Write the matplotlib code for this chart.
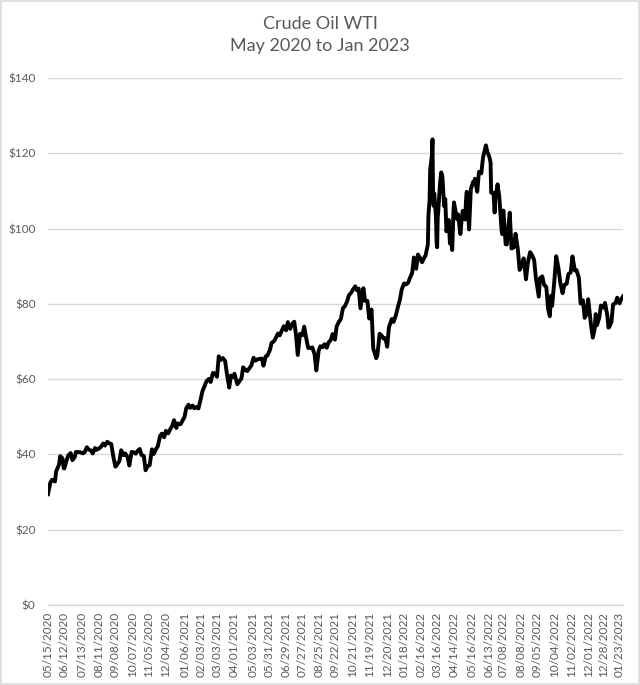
import matplotlib
matplotlib.use("Agg")
import matplotlib.pyplot as plt
import matplotlib.dates as mdates
from matplotlib.patches import Rectangle
import pandas as pd

dates = [
 "2020-05-15","2020-05-19","2020-05-22","2020-05-27","2020-05-29","2020-06-03","2020-06-05","2020-06-09","2020-06-11","2020-06-12",
 "2020-06-16","2020-06-19","2020-06-23","2020-06-26","2020-06-30","2020-07-02","2020-07-07","2020-07-10","2020-07-14","2020-07-17",
 "2020-07-21","2020-07-24","2020-07-28","2020-07-31","2020-08-04","2020-08-07","2020-08-11","2020-08-14","2020-08-18","2020-08-21",
 "2020-08-25","2020-08-28","2020-09-01","2020-09-04","2020-09-08","2020-09-11","2020-09-15","2020-09-18","2020-09-22","2020-09-25",
 "2020-09-29","2020-10-02","2020-10-06","2020-10-09","2020-10-13","2020-10-16","2020-10-20","2020-10-23","2020-10-27","2020-10-30",
 "2020-11-02","2020-11-06","2020-11-10","2020-11-13","2020-11-17","2020-11-20","2020-11-24","2020-11-27","2020-12-01","2020-12-04",
 "2020-12-08","2020-12-11","2020-12-15","2020-12-18","2020-12-22","2020-12-24","2020-12-29","2020-12-31",
 "2021-01-05","2021-01-08","2021-01-12","2021-01-15","2021-01-19","2021-01-22","2021-01-26","2021-01-29","2021-02-02","2021-02-05",
 "2021-02-09","2021-02-12","2021-02-16","2021-02-19","2021-02-23","2021-02-26","2021-03-02","2021-03-05","2021-03-08","2021-03-12",
 "2021-03-16","2021-03-19","2021-03-23","2021-03-26","2021-03-30","2021-04-01","2021-04-06","2021-04-09","2021-04-13","2021-04-16",
 "2021-04-20","2021-04-23","2021-04-27","2021-04-30","2021-05-04","2021-05-07","2021-05-11","2021-05-14","2021-05-18","2021-05-21",
 "2021-05-25","2021-05-28","2021-06-01","2021-06-04","2021-06-08","2021-06-11","2021-06-15","2021-06-18","2021-06-22","2021-06-25",
 "2021-06-29","2021-07-02","2021-07-06","2021-07-09","2021-07-13","2021-07-16","2021-07-19","2021-07-23","2021-07-27","2021-07-30",
 "2021-08-03","2021-08-06","2021-08-10","2021-08-13","2021-08-17","2021-08-20","2021-08-24","2021-08-27","2021-08-31","2021-09-03",
 "2021-09-07","2021-09-10","2021-09-14","2021-09-17","2021-09-21","2021-09-24","2021-09-28","2021-10-01","2021-10-05","2021-10-08",
 "2021-10-12","2021-10-15","2021-10-19","2021-10-22","2021-10-26","2021-10-29","2021-11-01","2021-11-04","2021-11-09","2021-11-12",
 "2021-11-16","2021-11-19","2021-11-23","2021-11-26","2021-11-30","2021-12-01","2021-12-03","2021-12-07","2021-12-10","2021-12-14",
 "2021-12-17","2021-12-20","2021-12-23","2021-12-28","2021-12-31",
 "2022-01-04","2022-01-07","2022-01-11","2022-01-14","2022-01-18","2022-01-21","2022-01-25","2022-01-28","2022-02-01","2022-02-04",
 "2022-02-08","2022-02-11","2022-02-15","2022-02-18","2022-02-22","2022-02-24","2022-02-28","2022-03-01","2022-03-03","2022-03-04",
 "2022-03-07","2022-03-08","2022-03-09","2022-03-10","2022-03-11","2022-03-14","2022-03-15","2022-03-16","2022-03-17","2022-03-18",
 "2022-03-21","2022-03-23","2022-03-25","2022-03-28","2022-03-30","2022-04-01","2022-04-05","2022-04-07","2022-04-08","2022-04-11",
 "2022-04-13","2022-04-14","2022-04-19","2022-04-21","2022-04-25","2022-04-27","2022-04-29","2022-05-03","2022-05-05","2022-05-06",
 "2022-05-10","2022-05-13","2022-05-17","2022-05-19","2022-05-20","2022-05-24","2022-05-27","2022-05-31","2022-06-03","2022-06-08",
 "2022-06-10","2022-06-14","2022-06-16","2022-06-17","2022-06-21","2022-06-23","2022-06-24","2022-06-28","2022-07-01","2022-07-05",
 "2022-07-06","2022-07-08","2022-07-12","2022-07-14","2022-07-15","2022-07-19","2022-07-22","2022-07-26","2022-07-29","2022-08-02",
 "2022-08-05","2022-08-09","2022-08-12","2022-08-16","2022-08-19","2022-08-23","2022-08-26","2022-08-30","2022-09-02","2022-09-07",
 "2022-09-09","2022-09-13","2022-09-16","2022-09-20","2022-09-23","2022-09-26","2022-09-28","2022-09-30","2022-10-04","2022-10-07",
 "2022-10-11","2022-10-14","2022-10-18","2022-10-21","2022-10-25","2022-10-28","2022-11-01","2022-11-04","2022-11-08","2022-11-11",
 "2022-11-15","2022-11-18","2022-11-22","2022-11-25","2022-11-28","2022-12-01","2022-12-02","2022-12-06","2022-12-09","2022-12-12",
 "2022-12-14","2022-12-16","2022-12-20","2022-12-23","2022-12-28","2022-12-30",
 "2023-01-03","2023-01-05","2023-01-06","2023-01-10","2023-01-13","2023-01-17","2023-01-20","2023-01-24","2023-01-26","2023-01-30",
]
prices = [
 29.43,32.50,33.25,32.81,35.49,37.29,39.55,38.94,36.34,36.26,
 38.38,39.75,40.37,38.49,39.27,40.65,40.62,40.55,40.29,40.59,
 41.92,41.29,41.04,40.27,41.70,41.22,41.61,42.01,42.89,42.34,
 43.35,42.97,42.76,39.77,36.76,37.33,38.28,41.11,39.80,40.25,
 39.29,37.05,40.67,40.60,40.20,40.88,41.46,39.85,39.57,35.79,
 36.81,37.14,41.36,40.13,41.43,42.15,44.91,45.53,44.55,46.26,
 45.60,46.57,47.62,49.10,47.02,48.23,48.00,48.52,
 49.93,52.24,53.21,52.36,52.98,52.27,52.61,52.20,54.76,56.85,
 58.36,59.47,60.05,59.24,61.67,61.50,60.64,66.09,65.05,65.61,
 64.80,61.42,57.76,60.97,60.55,61.45,58.65,59.32,60.18,63.13,
 62.44,62.14,62.94,63.58,65.69,64.90,65.28,65.37,65.49,63.58,
 66.07,66.32,67.72,69.62,70.05,70.91,72.12,71.64,73.06,74.05,
 72.98,75.16,73.37,74.56,75.25,71.81,66.42,72.07,71.65,73.95,
 70.56,68.28,68.29,68.44,66.59,62.32,67.54,68.74,68.50,69.29,
 68.35,69.72,70.46,71.97,70.49,73.98,75.29,75.88,78.93,79.35,
 80.64,82.28,82.96,83.76,84.65,83.57,84.05,78.81,84.15,80.79,
 80.76,76.10,78.50,68.15,66.18,65.57,66.26,72.05,71.67,70.73,
 70.86,68.61,73.79,75.98,75.21,
 76.99,78.90,81.22,83.82,85.43,85.14,85.60,86.82,88.20,92.31,
 89.36,93.10,92.07,91.07,92.35,92.81,95.72,103.41,107.67,115.68,
 119.40,123.70,108.70,106.02,109.33,103.01,96.44,95.04,102.98,104.70,
 112.12,114.93,113.90,105.96,107.82,99.27,102.28,96.03,98.26,94.29,
 104.25,106.95,102.56,103.79,98.54,102.02,104.69,102.41,108.26,109.77,
 99.76,110.49,112.40,112.21,113.23,109.77,115.07,114.67,118.87,122.11,
 120.67,118.93,117.59,109.56,109.52,104.27,107.62,111.76,108.43,99.50,
 98.53,104.79,95.84,95.78,97.59,104.22,94.70,94.98,98.62,94.42,
 89.01,90.50,92.09,86.53,90.77,93.74,93.06,91.64,86.87,81.94,
 86.79,87.31,85.11,84.45,78.74,76.71,82.15,79.49,86.52,92.64,
 89.35,85.61,82.82,85.05,85.32,87.90,88.37,92.61,88.91,88.96,
 86.92,80.08,80.95,76.28,77.24,81.22,79.98,74.25,71.02,73.17,
 77.28,74.29,76.23,79.56,78.96,80.26,
 76.93,73.67,73.77,75.12,79.86,80.18,81.64,80.13,81.01,82.00,
]
tick_labels = [
 "05/15/2020","06/12/2020","07/13/2020","08/11/2020","09/08/2020","10/07/2020","11/05/2020","12/04/2020",
 "01/06/2021","02/03/2021","03/03/2021","04/01/2021","05/03/2021","05/31/2021","06/29/2021","07/27/2021",
 "08/25/2021","09/22/2021","10/21/2021","11/19/2021","12/20/2021","01/18/2022","02/16/2022","03/16/2022",
 "04/14/2022","05/16/2022","06/13/2022","07/08/2022","08/08/2022","09/05/2022","10/04/2022","11/02/2022",
 "12/01/2022","12/28/2022","01/23/2023",
]
y_ticks = [0, 20, 40, 60, 80, 100, 120, 140]
title = "Crude Oil WTI\nMay 2020 to Jan 2023"

# ---- styling ----
FONT = ["Lato", "DejaVu Sans"]
TXT = "#595959"
GRID = "#d9d9d9"
plt.rcParams["font.family"] = FONT

x = pd.to_datetime(dates)
tick_pos = pd.to_datetime(tick_labels, format="%m/%d/%Y")

fig = plt.figure(figsize=(6.40, 6.85), dpi=100)
fig.patches.append(Rectangle((0.002, 0.002), 0.996, 0.996, transform=fig.transFigure,
                             fill=False, edgecolor=GRID, linewidth=1.2))

W, H = 640, 685
L, R, T, B = 48, 623, 78, 605
ax = fig.add_axes([L / W, 1 - B / H, (R - L) / W, (B - T) / H])

ax.plot(x, prices, color="black", linewidth=2.8, solid_joinstyle="round", zorder=3)

ax.set_ylim(0, 140)
ax.set_yticks(y_ticks)
ax.set_yticklabels([f"${v}" for v in y_ticks])
ax.set_xlim(x[0], x[-1])
ax.set_xticks(tick_pos)
ax.set_xticklabels(tick_labels, rotation=90)

ax.grid(axis="y", color=GRID, linewidth=1.0)
ax.set_axisbelow(True)
for s in ["top", "right", "left"]:
    ax.spines[s].set_visible(False)
ax.spines["bottom"].set_color(GRID)
ax.spines["bottom"].set_linewidth(1.0)
ax.tick_params(axis="both", length=0, colors=TXT, labelsize=8.5)
ax.tick_params(axis="y", pad=9)
ax.tick_params(axis="x", pad=5)

fig.text(0.5, 1 - 35 / H, title, ha="center", va="center", fontsize=13,
         color=TXT, linespacing=1.5)

fig.savefig("out.png", dpi=100)
